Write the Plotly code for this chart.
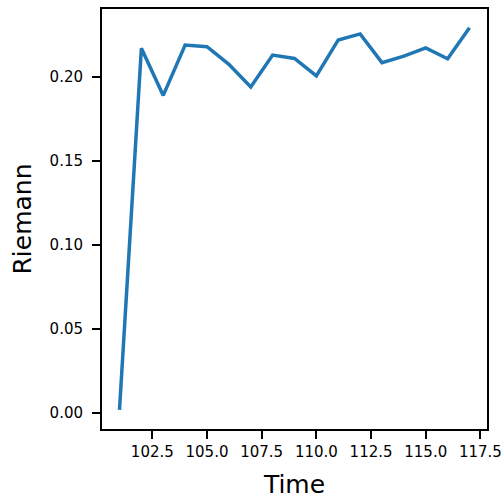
import plotly.graph_objects as go

time = list(range(101, 118))
riemann = [0.002, 0.217, 0.189, 0.219, 0.218, 0.2075, 0.194, 0.213, 0.211, 0.2006,
           0.222, 0.2256, 0.2085, 0.2124, 0.2173, 0.2108, 0.2292]
xticks = [102.5, 105.0, 107.5, 110.0, 112.5, 115.0, 117.5]
yticks = [0.00, 0.05, 0.10, 0.15, 0.20]

fig = go.Figure(go.Scatter(x=time, y=riemann, mode="lines",
                           line=dict(color="#1f77b4", width=3.5), cliponaxis=False))

axis_common = dict(showgrid=False, zeroline=False, showline=True, mirror=True,
                   linecolor="black", linewidth=2, ticks="outside", ticklen=8,
                   tickwidth=2, tickcolor="black", automargin=False,
                   tickfont=dict(family="DejaVu Sans", size=15, color="black"),
                   title_font=dict(family="DejaVu Sans", size=25, color="black"))

fig.update_xaxes(range=[100.2, 117.8], tickvals=xticks,
                 ticktext=[f"{v:.1f}" for v in xticks], title_text="Time",
                 title_standoff=15, **axis_common)
fig.update_yaxes(range=[-0.0094, 0.2404], tickvals=yticks,
                 ticktext=[f"{v:.2f}" for v in yticks], title_text="Riemann",
                 title_standoff=11, ticklabelstandoff=6, **axis_common)

fig.update_layout(width=504, height=504, plot_bgcolor="white", paper_bgcolor="white",
                  margin=dict(l=102, r=17, t=9, b=75), showlegend=False,
                  font=dict(family="DejaVu Sans"))

fig.write_html("out.html", config={"displayModeBar": False},
               post_script="document.body.style.margin='0';document.body.style.overflow='hidden';")
